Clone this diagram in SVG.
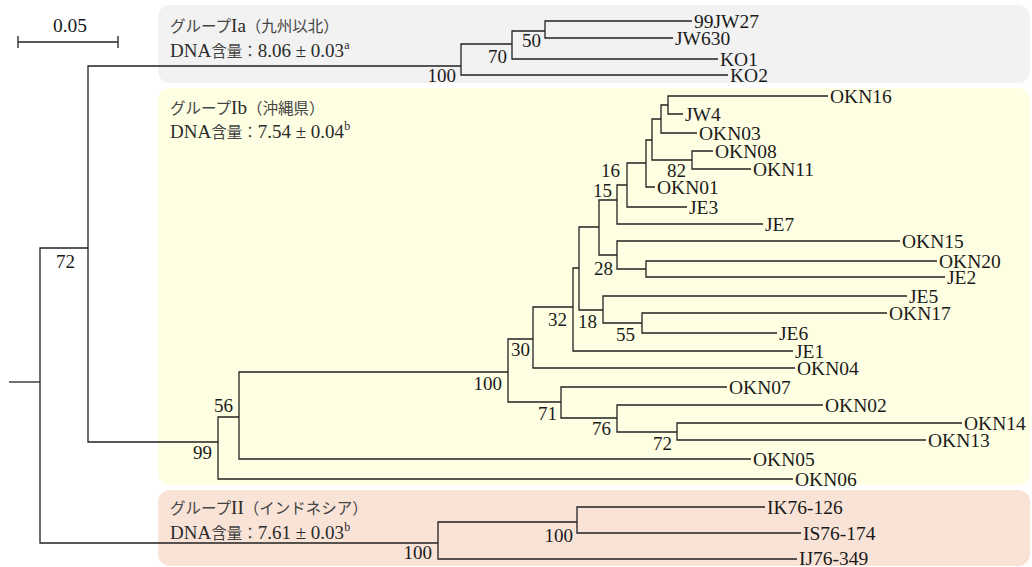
<svg xmlns="http://www.w3.org/2000/svg" width="1032" height="567" viewBox="0 0 1032 567">
<style>
.br{fill:none;stroke:#222;stroke-width:1.3}
.lf{font-family:"Liberation Serif","Times New Roman",serif;font-size:19.5px;fill:#1a1a1a}
.bs{font-family:"Liberation Serif","Times New Roman",serif;font-size:19px;fill:#1a1a1a;text-anchor:end}
.gt{font-family:"Noto Sans CJK JP",sans-serif;font-size:15.5px;fill:#444}
.lt{font-family:"Liberation Serif","Times New Roman",serif;font-size:19px;fill:#2a2a2a}
.sup{font-family:"Liberation Serif","Times New Roman",serif;font-size:12px;fill:#2a2a2a}
</style>
<rect width="1032" height="567" fill="#ffffff"/>
<g id="group-Ia">
<rect x="158" y="5" width="872" height="78" rx="12" fill="#f2f2f2"/>
<text class="gt" x="170" y="32">グループ<tspan class="lt">Ia</tspan>（九州以北）</text>
<text class="gt" x="170" y="57"><tspan class="lt">DNA</tspan>含量：<tspan class="lt">8.06 ± 0.03</tspan><tspan class="sup" dy="-8">a</tspan></text>
</g>
<g id="group-Ib">
<rect x="158" y="88" width="872" height="397" rx="12" fill="#fefee2"/>
<text class="gt" x="170" y="114">グループ<tspan class="lt">Ib</tspan>（沖縄県）</text>
<text class="gt" x="170" y="138"><tspan class="lt">DNA</tspan>含量：<tspan class="lt">7.54 ± 0.04</tspan><tspan class="sup" dy="-8">b</tspan></text>
</g>
<g id="group-II">
<rect x="158" y="490" width="872" height="76" rx="12" fill="#f9e3d7"/>
<text class="gt" x="170" y="514">グループ<tspan class="lt">II</tspan>（インドネシア）</text>
<text class="gt" x="170" y="539"><tspan class="lt">DNA</tspan>含量：<tspan class="lt">7.61 ± 0.03</tspan><tspan class="sup" dy="-8">b</tspan></text>
</g>
<g id="scale-bar">
<path class="br" d="M18,42 H118 M18,36 V48 M118,36 V48" stroke-width="1.8"/>
<text class="lf" x="70" y="32" text-anchor="middle" font-size="18">0.05</text>
</g>
<g id="connectors">
<path class="br" d="M9,382 H40"/>
<path class="br" d="M88,248 H40 V543 H438"/>
<path class="br" d="M461,66 H88 V442 H218"/>
<path class="br" d="M512,44 H461 V75 H728"/>
<path class="br" d="M545,31 H512 V59 H718"/>
<path class="br" d="M692,21 H545 V38 H673"/>
<path class="br" d="M239,417 H218 V479 H793"/>
<path class="br" d="M508,372 H239 V459 H751"/>
<path class="br" d="M533,339 H508 V402 H561"/>
<path class="br" d="M727,387 H561 V418 H617"/>
<path class="br" d="M823,405 H617 V432 H677"/>
<path class="br" d="M962,423 H677 V440 H926"/>
<path class="br" d="M573,307 H533 V368 H795"/>
<path class="br" d="M579,268 H573 V351 H793"/>
<path class="br" d="M599,227 H579 V310 H603"/>
<path class="br" d="M907,296 H603 V323 H642"/>
<path class="br" d="M887,313 H642 V333 H777"/>
<path class="br" d="M617,200 H599 V255 H617"/>
<path class="br" d="M900,241 H617 V269 H646"/>
<path class="br" d="M937,261 H646 V277 H945"/>
<path class="br" d="M627,185 H617 V224 H763"/>
<path class="br" d="M646,163 H627 V207 H687"/>
<path class="br" d="M652,140 H646 V187 H655"/>
<path class="br" d="M661,119 H652 V160 H692"/>
<path class="br" d="M713,151 H692 V169 H751"/>
<path class="br" d="M668,105 H661 V133 H697"/>
<path class="br" d="M828,96 H668 V114 H683"/>
<path class="br" d="M577,522 H438 V559 H797"/>
<path class="br" d="M765,507 H577 V533 H801"/>
</g>
<g id="bootstrap">
<g id="n-Ia"><text class="bs" x="456" y="82">100</text></g>
<g id="n-70"><text class="bs" x="507" y="63">70</text></g>
<g id="n-50"><text class="bs" x="541" y="47">50</text></g>
<g id="n-72a"><text class="bs" x="75" y="268">72</text></g>
<g id="n-99"><text class="bs" x="212" y="459">99</text></g>
<g id="n-56"><text class="bs" x="233" y="412">56</text></g>
<g id="n-100b"><text class="bs" x="502" y="390">100</text></g>
<g id="n-30"><text class="bs" x="530" y="356">30</text></g>
<g id="n-32"><text class="bs" x="567" y="326">32</text></g>
<g id="n-18"><text class="bs" x="597" y="328">18</text></g>
<g id="n-55"><text class="bs" x="635" y="341">55</text></g>
<g id="n-28"><text class="bs" x="613" y="275">28</text></g>
<g id="n-15"><text class="bs" x="612" y="197">15</text></g>
<g id="n-16"><text class="bs" x="620" y="177">16</text></g>
<g id="n-82"><text class="bs" x="686" y="177">82</text></g>
<g id="n-71"><text class="bs" x="557" y="420">71</text></g>
<g id="n-76"><text class="bs" x="611" y="435">76</text></g>
<g id="n-72b"><text class="bs" x="672" y="450">72</text></g>
<g id="n-II"><text class="bs" x="432" y="559">100</text></g>
<g id="n-IK"><text class="bs" x="573" y="542">100</text></g>
</g>
<g id="leaves">
<g id="leaf-99JW27"><text class="lf" x="694" y="28">99JW27</text></g>
<g id="leaf-JW630"><text class="lf" x="675" y="45">JW630</text></g>
<g id="leaf-KO1"><text class="lf" x="720" y="66">KO1</text></g>
<g id="leaf-KO2"><text class="lf" x="730" y="82">KO2</text></g>
<g id="leaf-OKN16"><text class="lf" x="830" y="103">OKN16</text></g>
<g id="leaf-JW4"><text class="lf" x="685" y="121">JW4</text></g>
<g id="leaf-OKN03"><text class="lf" x="699" y="140">OKN03</text></g>
<g id="leaf-OKN08"><text class="lf" x="715" y="158">OKN08</text></g>
<g id="leaf-OKN11"><text class="lf" x="753" y="176">OKN11</text></g>
<g id="leaf-OKN01"><text class="lf" x="657" y="194">OKN01</text></g>
<g id="leaf-JE3"><text class="lf" x="689" y="214">JE3</text></g>
<g id="leaf-JE7"><text class="lf" x="765" y="231">JE7</text></g>
<g id="leaf-OKN15"><text class="lf" x="902" y="248">OKN15</text></g>
<g id="leaf-OKN20"><text class="lf" x="939" y="268">OKN20</text></g>
<g id="leaf-JE2"><text class="lf" x="947" y="284">JE2</text></g>
<g id="leaf-JE5"><text class="lf" x="909" y="303">JE5</text></g>
<g id="leaf-OKN17"><text class="lf" x="889" y="320">OKN17</text></g>
<g id="leaf-JE6"><text class="lf" x="779" y="340">JE6</text></g>
<g id="leaf-JE1"><text class="lf" x="795" y="358">JE1</text></g>
<g id="leaf-OKN04"><text class="lf" x="797" y="375">OKN04</text></g>
<g id="leaf-OKN07"><text class="lf" x="729" y="394">OKN07</text></g>
<g id="leaf-OKN02"><text class="lf" x="825" y="412">OKN02</text></g>
<g id="leaf-OKN14"><text class="lf" x="964" y="430">OKN14</text></g>
<g id="leaf-OKN13"><text class="lf" x="928" y="447">OKN13</text></g>
<g id="leaf-OKN05"><text class="lf" x="753" y="466">OKN05</text></g>
<g id="leaf-OKN06"><text class="lf" x="795" y="486">OKN06</text></g>
<g id="leaf-IK76-126"><text class="lf" x="767" y="514">IK76-126</text></g>
<g id="leaf-IS76-174"><text class="lf" x="803" y="540">IS76-174</text></g>
<g id="leaf-IJ76-349"><text class="lf" x="799" y="565">IJ76-349</text></g>
</g>
</svg>
